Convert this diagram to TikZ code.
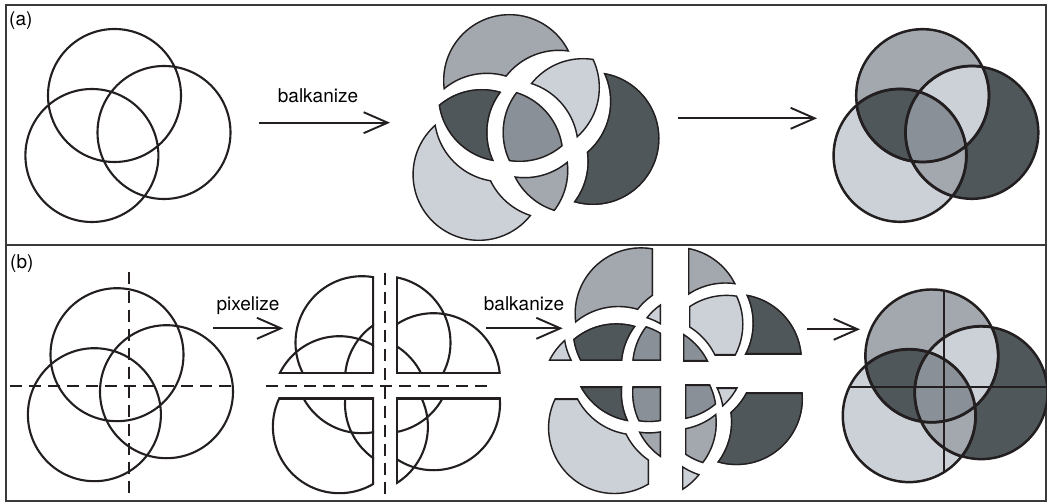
\documentclass[tikz,border=0pt]{standalone}
\usepackage{fontspec}
\setmainfont{TeX Gyre Heros}
\usetikzlibrary{arrows.meta}
\definecolor{inkcol}{HTML}{231F20}
\definecolor{framecol}{HTML}{3A3A3A}
\definecolor{shadeA}{HTML}{A3A8AE}
\definecolor{shadeB}{HTML}{50575A}
\definecolor{shadeC}{HTML}{CCD0D7}
\definecolor{shadeABC}{HTML}{8A9097}
\tikzset{
  ring/.style={line width=2.1pt, draw=inkcol},
  cutline/.style={line width=2pt, draw=inkcol, dash pattern=on 12pt off 7pt},
  piecerim/.style={line width=2.8pt, draw=inkcol},
  arr/.style={line width=1.9pt, draw=inkcol, -{Straight Barb[length=24pt,width=21pt]}},
  steplabel/.style={font=\fontsize{19}{22}\selectfont, inner sep=0pt, anchor=base},
  tag/.style={font=\fontsize{19}{22}\selectfont, inner sep=0pt, anchor=base west},
  panel/.style={line width=1.1pt, draw=framecol}
}
\newcommand{\rad}{66.5pt}
\newcommand{\cA}{(0,0) circle[radius=\rad]}
\newcommand{\cB}{(49.5,37) circle[radius=\rad]}
\newcommand{\cC}{(-22.6,60) circle[radius=\rad]}
\newcommand{\wide}{(-250,-250) rectangle (250,250)}
\newcommand{\qTL}{(-250,-250) rectangle (12,31)}
\newcommand{\qTR}{(12,-250) rectangle (250,31)}
\newcommand{\qBL}{(-250,31) rectangle (12,250)}
\newcommand{\qBR}{(12,31) rectangle (250,250)}
% keep the inside (1) or the outside (0) of one circle
\newcommand{\side}[2]{\ifnum#1=1 \clip #2;\else\clip \wide #2;\fi}
% one face: flags A/B/C, colour, offset, quarter
\newcommand{\face}[7]{%
  \begin{scope}[shift={(#5,#6)}, even odd rule]
    \side{#1}{\cA}\side{#2}{\cB}\side{#3}{\cC}
    \clip #7;
    \fill[#4] \wide;
    \draw[piecerim] \cA \cB \cC #7;
  \end{scope}}
% one quarter of the cut circles
\newcommand{\quarter}[1]{%
  \begin{scope}
    \clip #1;
    \draw[ring] \cA \cB \cC;
    \clip \cA \cB \cC;
    \draw[ring, line width=4pt] #1;
  \end{scope}}

\begin{document}
\begin{tikzpicture}[x=1pt, y=-1pt]
  \useasboundingbox (0,0) rectangle (1047,502);
  % panels
  \draw[panel] (6,5) rectangle (1046,501);
  \draw[panel] (6,245) -- (1046,245);
  \node[tag] (taga) at (9,26) {(a)};
  \node[tag] (tagb) at (10,269) {(b)};

  % (a) plain circles
  \begin{scope}[shift={(114.5,95.5)}]
    \draw[ring] \cA \cB \cC;
  \end{scope}
  % (a) faces pulled apart
  \begin{scope}[shift={(519.5,95.5)}]
    \foreach \fa/\fb/\fc/\col/\dx/\dy in {
      1/0/0/shadeA/-10/-15, 0/1/0/shadeB/24/6, 0/0/1/shadeC/-18/19,
      1/1/0/shadeC/14/-8, 1/0/1/shadeB/-15/0, 0/1/1/shadeA/5/15,
      1/1/1/shadeABC/0/0}
      {\face{\fa}{\fb}{\fc}{\col}{\dx}{\dy}{\wide}}
  \end{scope}
  % (a) shaded result
  \begin{scope}[shift={(922.5,95.5)}]
    \foreach \fa/\fb/\fc/\col in {
      1/0/0/shadeA, 0/1/0/shadeB, 0/0/1/shadeC, 1/1/0/shadeC,
      1/0/1/shadeB, 0/1/1/shadeA, 1/1/1/shadeABC}
      {\face{\fa}{\fb}{\fc}{\col}{0}{0}{\wide}}
    \draw[ring] \cA \cB \cC;
  \end{scope}

  \coordinate (a1s) at (259,122.7);
  \coordinate (a1e) at (390,122.7);
  \coordinate (a2s) at (678,118.3);
  \coordinate (a2e) at (817,118.3);
  \draw[arr] (a1s) -- (a1e);
  \draw[arr] (a2s) -- (a2e);
  \node[steplabel] (balka) at (318,102.7) {balkanize};

  % (b) circles with cut lines
  \begin{scope}[shift={(117,354.7)}]
    \draw[ring] \cA \cB \cC;
    \draw[cutline] (12,-83) -- (12,140) (-107,31) -- (121,31);
  \end{scope}
  % (b) pixelized quarters
  \begin{scope}[shift={(373,354.7)}]
    \draw[cutline] (12,-82) -- (12,140) (-107,31) -- (120,31);
    \foreach \q/\qx/\qy in {\qTL/-11/-12, \qTR/11/-12, \qBL/-11/12, \qBR/11/12}
      {\begin{scope}[shift={(\qx,\qy)}]\quarter{\q}\end{scope}}
  \end{scope}
  % (b) faces of each quarter pulled apart
  \begin{scope}[shift={(660.5,342.2)}]
    \begin{scope}[shift={(-11.5,-12.5)}]
      \foreach \fa/\fb/\fc/\col/\dx/\dy in {
        1/1/1/shadeABC/0/0, 1/0/0/shadeA/-8/-16, 1/1/0/shadeC/0/-8,
        1/0/1/shadeB/-10/0, 0/0/1/shadeC/-18/0}
        {\face{\fa}{\fb}{\fc}{\col}{\dx}{\dy}{\qTL}}
    \end{scope}
    \begin{scope}[shift={(10.5,-12)}]
      \foreach \fa/\fb/\fc/\col/\dx/\dy in {
        1/1/1/shadeABC/0/0, 1/0/0/shadeA/5/-17, 1/1/0/shadeC/6/-6,
        0/1/0/shadeB/15/-7}
        {\face{\fa}{\fb}{\fc}{\col}{\dx}{\dy}{\qTR}}
    \end{scope}
    \begin{scope}[shift={(-11.5,13.5)}]
      \foreach \fa/\fb/\fc/\col/\dx/\dy in {
        1/1/1/shadeABC/0/0, 1/0/1/shadeB/-10/0, 0/0/1/shadeC/-12/12,
        0/1/1/shadeA/0/10}
        {\face{\fa}{\fb}{\fc}{\col}{\dx}{\dy}{\qBL}}
    \end{scope}
    \begin{scope}[shift={(12.5,11.5)}]
      \foreach \fa/\fb/\fc/\col/\dx/\dy in {
        1/1/1/shadeABC/0/0, 1/1/0/shadeC/6/3, 0/1/0/shadeB/14/8,
        0/1/1/shadeA/0/9, 0/0/1/shadeC/-3/20}
        {\face{\fa}{\fb}{\fc}{\col}{\dx}{\dy}{\qBR}}
    \end{scope}
  \end{scope}
  % (b) shaded result with the cuts
  \begin{scope}[shift={(931.7,355.8)}]
    \foreach \fa/\fb/\fc/\col in {
      1/0/0/shadeA, 0/1/0/shadeB, 0/0/1/shadeC, 1/1/0/shadeC,
      1/0/1/shadeB, 0/1/1/shadeA, 1/1/1/shadeABC}
      {\face{\fa}{\fb}{\fc}{\col}{0}{0}{\wide}}
    \begin{scope}
      \clip \cA \cB \cC;
      \draw[ring] (12,-100) -- (12,150) (-120,31) -- (130,31);
    \end{scope}
    \draw[ring] \cA \cB \cC;
  \end{scope}

  \coordinate (b1s) at (213,328.3);
  \coordinate (b1e) at (283.3,328.3);
  \coordinate (b2s) at (486,328.3);
  \coordinate (b2e) at (562.7,328.3);
  \coordinate (b3s) at (807.3,329.3);
  \coordinate (b3e) at (860,329.3);
  \draw[arr] (b1s) -- (b1e);
  \draw[arr] (b2s) -- (b2e);
  \draw[arr] (b3s) -- (b3e);
  \node[steplabel] (pixb) at (248,310.7) {pixelize};
  \node[steplabel] (balkb) at (524,310.7) {balkanize};
\end{tikzpicture}
\end{document}
